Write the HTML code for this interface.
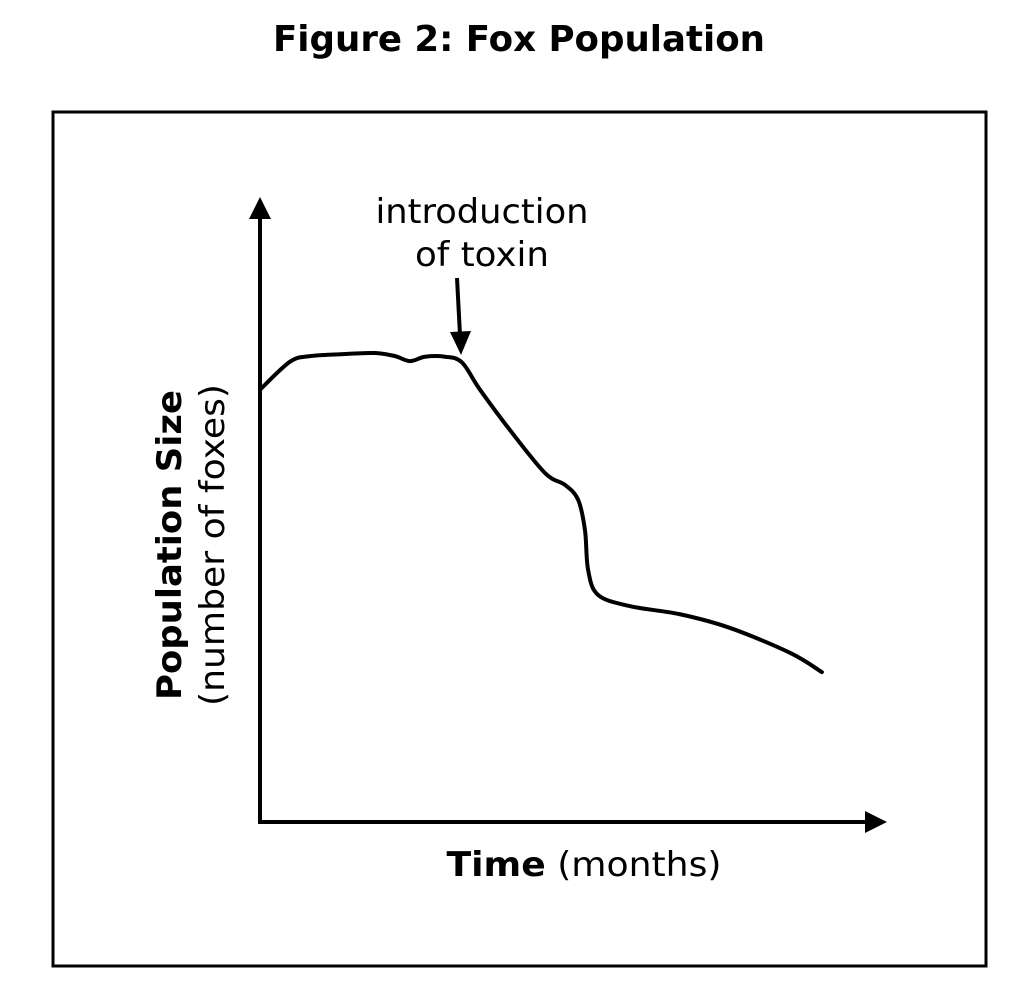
<!DOCTYPE html>
<html><head><meta charset="utf-8"><style>
html,body{margin:0;padding:0;background:#fff}
svg{display:block}
text{font-family:"DejaVu Sans","Liberation Sans",sans-serif;fill:#000}
</style></head><body>
<svg width="1024" height="1006" viewBox="0 0 1024 1006">
<text x="519" y="51" text-anchor="middle" font-size="36" font-weight="bold" textLength="492" lengthAdjust="spacingAndGlyphs">Figure 2: Fox Population</text>
<rect x="53" y="112" width="933" height="854" fill="none" stroke="#000" stroke-width="3"/>
<line x1="260" y1="824" x2="260" y2="215" stroke="#000" stroke-width="4"/>
<polygon points="260,197 249,219 271,219"/>
<line x1="258" y1="822" x2="868" y2="822" stroke="#000" stroke-width="4"/>
<polygon points="887,822 865,811 865,833"/>
<text x="584" y="876" text-anchor="middle" font-size="34" textLength="275" lengthAdjust="spacingAndGlyphs"><tspan font-weight="bold">Time</tspan> (months)</text>
<text transform="translate(181,545) rotate(-90)" text-anchor="middle" font-size="34" font-weight="bold" textLength="310" lengthAdjust="spacingAndGlyphs">Population Size</text>
<text transform="translate(224,545) rotate(-90)" text-anchor="middle" font-size="34" textLength="322" lengthAdjust="spacingAndGlyphs">(number of foxes)</text>
<text x="482" y="223" text-anchor="middle" font-size="34" textLength="213" lengthAdjust="spacingAndGlyphs">introduction</text>
<text x="482" y="266" text-anchor="middle" font-size="34" textLength="134" lengthAdjust="spacingAndGlyphs">of toxin</text>
<line x1="457" y1="278" x2="460" y2="335" stroke="#000" stroke-width="4"/>
<polygon points="461,355 450,332 471,331"/>
<path id="curve" fill="none" stroke="#000" stroke-width="4" stroke-linecap="round"/>
</svg>
<script>
const months=[0,4.8,8,12.8,18.4,21.6,24,26.4,29.6,32.3,35.2,40,45.6,48.8,50.9,52,52.5,54.1,59.2,67.2,75.2,84.8,89.9];
const population=[69.5,74.0,74.9,75.2,75.4,74.9,74.1,74.8,74.8,73.9,69.5,63.0,56.1,54.2,51.8,46.9,40.5,36.5,34.7,33.4,31.2,27.2,24.1];
function xScale(v){return 260+v*6.25;}
function yScale(v){return 822-v*6.22;}
const pts=months.map((m,i)=>[xScale(m),yScale(population[i])]);
let d='M'+pts[0][0]+','+pts[0][1];
for(let i=0;i<pts.length-1;i++){
 const p0=pts[Math.max(0,i-1)],p1=pts[i],p2=pts[i+1],p3=pts[Math.min(pts.length-1,i+2)];
 const c1=[p1[0]+(p2[0]-p0[0])/6,p1[1]+(p2[1]-p0[1])/6];
 const c2=[p2[0]-(p3[0]-p1[0])/6,p2[1]-(p3[1]-p1[1])/6];
 d+=' C'+c1.join(',')+' '+c2.join(',')+' '+p2.join(',');
}
const c=document.getElementById('curve');
c.setAttribute('d',d);
</script>
</body></html>
